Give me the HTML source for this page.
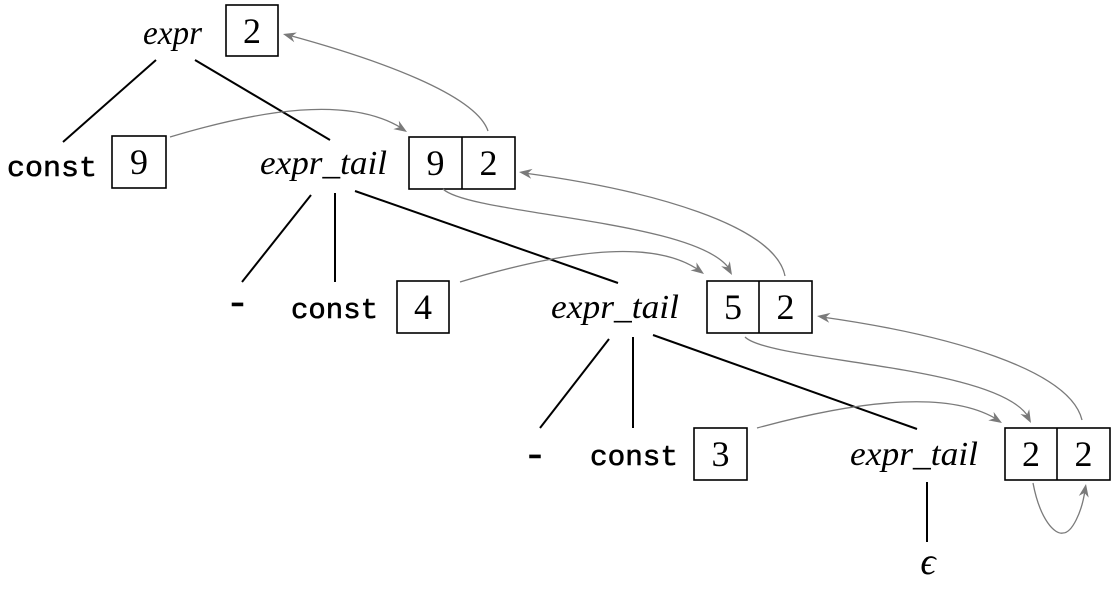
<!DOCTYPE html>
<html><head><meta charset="utf-8"><style>
html,body{margin:0;padding:0;background:#fff;}
svg{display:block;}
.it{font-family:"Liberation Serif",serif;font-style:italic;font-size:34px;fill:#000;}
.tt{font-family:"Liberation Mono",monospace;font-size:29px;fill:#000;stroke:#000;stroke-width:0.6;}
.mn{font-family:"Liberation Mono",monospace;font-size:40px;fill:#000;stroke:#000;stroke-width:0.6;text-anchor:middle;}
.dg{font-family:"Liberation Serif",serif;font-size:36px;fill:#000;text-anchor:middle;}
.bx{fill:none;stroke:#000;stroke-width:1.6;}
.tr{stroke:#000;stroke-width:2;fill:none;}
.ar{stroke:#7a7a7a;stroke-width:1.3;fill:none;}
.ah{fill:#7a7a7a;}
</style></head><body>
<svg width="1118" height="589" viewBox="0 0 1118 589" xmlns="http://www.w3.org/2000/svg">
<!-- tree lines -->
<line class="tr" x1="156" y1="60" x2="63" y2="142"/>
<line class="tr" x1="195" y1="60" x2="330" y2="140"/>
<line class="tr" x1="311" y1="195" x2="242" y2="282"/>
<line class="tr" x1="335" y1="193" x2="335" y2="282"/>
<line class="tr" x1="355" y1="191" x2="618" y2="283"/>
<line class="tr" x1="609" y1="339" x2="540" y2="428"/>
<line class="tr" x1="633" y1="337" x2="633" y2="428"/>
<line class="tr" x1="653" y1="335" x2="917" y2="429"/>
<line class="tr" x1="927" y1="482" x2="927" y2="542"/>

<!-- text -->
<text class="it" x="143" y="44" textLength="59" lengthAdjust="spacingAndGlyphs">expr</text>
<text class="tt" x="7" y="176" textLength="90" lengthAdjust="spacingAndGlyphs">const</text>
<text class="it" x="260" y="174" textLength="127" lengthAdjust="spacingAndGlyphs">expr_tail</text>
<text class="mn" x="237.5" y="315">-</text>
<text class="tt" x="291" y="318" textLength="87" lengthAdjust="spacingAndGlyphs">const</text>
<text class="it" x="551" y="318" textLength="128" lengthAdjust="spacingAndGlyphs">expr_tail</text>
<text class="mn" x="535" y="467">-</text>
<text class="tt" x="590" y="465" textLength="88" lengthAdjust="spacingAndGlyphs">const</text>
<text class="it" x="850" y="465" textLength="128" lengthAdjust="spacingAndGlyphs">expr_tail</text>
<text x="928" y="574" text-anchor="middle" style="font-family:'Liberation Serif','DejaVu Serif',serif;font-style:italic;font-size:38px;">ϵ</text>

<!-- boxes -->
<rect class="bx" x="226" y="5" width="52" height="51"/>
<text class="dg" x="252" y="43">2</text>

<rect class="bx" x="112" y="136" width="54" height="52"/>
<text class="dg" x="139" y="174">9</text>

<rect class="bx" x="409" y="137" width="106" height="52"/>
<line class="bx" x1="462" y1="137" x2="462" y2="189"/>
<text class="dg" x="435.5" y="175">9</text>
<text class="dg" x="488.5" y="175">2</text>

<rect class="bx" x="397" y="281" width="52" height="52"/>
<text class="dg" x="423" y="319">4</text>

<rect class="bx" x="707" y="281" width="105" height="52"/>
<line class="bx" x1="759" y1="281" x2="759" y2="333"/>
<text class="dg" x="733" y="319">5</text>
<text class="dg" x="785.5" y="319">2</text>

<rect class="bx" x="694" y="428" width="53" height="52"/>
<text class="dg" x="720.5" y="466">3</text>

<rect class="bx" x="1005" y="428" width="105" height="52"/>
<line class="bx" x1="1057" y1="428" x2="1057" y2="480"/>
<text class="dg" x="1031" y="466">2</text>
<text class="dg" x="1083.5" y="466">2</text>

<!-- arrows -->
<path class="ar" d="M170,137 C260,110 350,95 403,129"/>
<polygon class="ah" points="0,0 -13,-5 -9,0 -13,5" transform="translate(407,132) rotate(33)"/>

<path class="ar" d="M488,131 C476,95 380,60 288,35"/>
<polygon class="ah" points="0,0 -13,-5 -9,0 -13,5" transform="translate(283,34) rotate(195)"/>

<path class="ar" d="M443,189 C470,215 700,220 730,270"/>
<polygon class="ah" points="0,0 -13,-5 -9,0 -13,5" transform="translate(732,275) rotate(60)"/>

<path class="ar" d="M460,282 C550,255 650,235 700,271"/>
<polygon class="ah" points="0,0 -13,-5 -9,0 -13,5" transform="translate(704,274) rotate(36)"/>

<path class="ar" d="M785,276 C775,225 650,190 524,173"/>
<polygon class="ah" points="0,0 -13,-5 -9,0 -13,5" transform="translate(519,172) rotate(188)"/>

<path class="ar" d="M745,337 C770,362 1000,365 1029,418"/>
<polygon class="ah" points="0,0 -13,-5 -9,0 -13,5" transform="translate(1031,423) rotate(61.5)"/>

<path class="ar" d="M757,428 C860,400 950,390 998,420"/>
<polygon class="ah" points="0,0 -13,-5 -9,0 -13,5" transform="translate(1002,423) rotate(32)"/>

<path class="ar" d="M1082,420 C1070,370 950,335 822,317"/>
<polygon class="ah" points="0,0 -13,-5 -9,0 -13,5" transform="translate(817,316) rotate(188)"/>

<path class="ar" d="M1033,483 C1040,520 1055,535 1063,533 C1072,533 1082,512 1085,490"/>
<polygon class="ah" points="0,0 -13,-5 -9,0 -13,5" transform="translate(1086,484) rotate(-80)"/>
</svg>
</body></html>
